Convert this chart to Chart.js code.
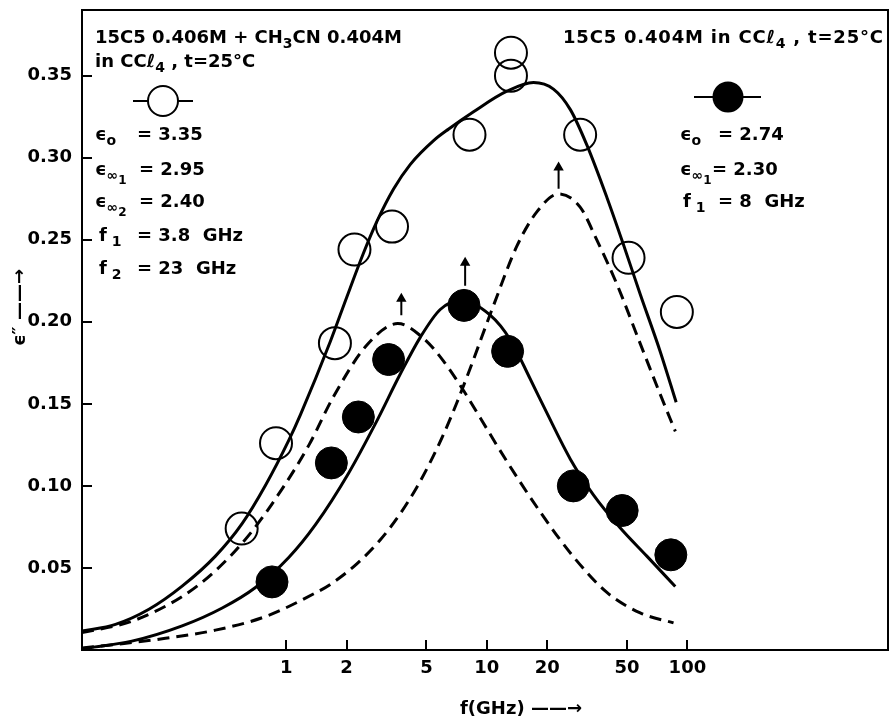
<!DOCTYPE html>
<html>
<head>
<meta charset="utf-8">
<script src="https://cdn.jsdelivr.net/npm/chart.js@4.4.0/dist/chart.umd.min.js"></script>
<style>
  html, body { margin: 0; padding: 0; background: #fff; }
</style>
</head>
<body>
<canvas id="myChart" width="890" height="721"></canvas>
<script>
'use strict';

// open circles: 15C5 0.406M + CH3CN 0.404M in CCl4
let openFreq = [0.60, 0.89, 1.75, 2.19, 3.37, 8.2, 13.2, 13.2, 29.2, 50.9, 88.6];
let openEps = [0.074, 0.126, 0.187, 0.244, 0.258, 0.314, 0.364, 0.350, 0.314, 0.239, 0.206];

// filled circles: 15C5 0.404M in CCl4
let fillFreq = [0.85, 1.68, 2.29, 3.24, 7.7, 12.7, 27.0, 47.3, 82.7];
let fillEps = [0.0415, 0.114, 0.142, 0.177, 0.210, 0.182, 0.100, 0.085, 0.058];

// solid curve through the open circles
let fitOpenFreq = [0.096, 0.141, 0.207, 0.303, 0.444, 0.603, 0.789, 1.03, 1.18, 1.66, 2.0, 2.43, 2.83, 3.43, 4.15, 5.43, 6.46, 8.59, 12.6, 17.1, 21.5, 26.1, 31.6, 39.7, 47.9, 58.2, 73.1, 87.9];
let fitOpenEps = [0.0115, 0.0156, 0.0248, 0.0389, 0.0572, 0.077, 0.1004, 0.1277, 0.1436, 0.188, 0.2147, 0.2419, 0.261, 0.2809, 0.2958, 0.3104, 0.3175, 0.328, 0.3405, 0.3458, 0.3418, 0.3293, 0.3075, 0.2758, 0.2474, 0.2168, 0.1821, 0.151];

// solid curve through the filled circles
let fitFillFreq = [0.096, 0.17, 0.303, 0.48, 0.703, 1.03, 1.40, 2.05, 2.79, 3.70, 4.66, 5.86, 7.4, 10.4, 13.1, 16.4, 19.9, 26.1, 34.0, 46.2, 62.8, 87];
let fitFillEps = [0.0008, 0.0054, 0.0147, 0.0256, 0.0381, 0.0564, 0.0764, 0.1079, 0.1381, 0.168, 0.1905, 0.2075, 0.213, 0.2041, 0.1891, 0.1656, 0.1446, 0.1163, 0.0946, 0.0745, 0.0572, 0.0387];

// dashed component, f1 = 3.8 GHz
let partOneFreq = [0.096, 0.17, 0.303, 0.444, 0.652, 0.955, 1.30, 1.72, 2.52, 3.6, 4.83, 6.1, 7.66, 9.27, 12.6, 18.5, 27.0, 39.7, 58.2, 85.3];
let partOneEps = [0.0106, 0.0175, 0.0326, 0.0483, 0.07, 0.0982, 0.125, 0.1543, 0.1857, 0.1989, 0.19, 0.1759, 0.1581, 0.1415, 0.1149, 0.084, 0.0569, 0.0351, 0.0226, 0.0165];

// dashed component, f2 = 23 GHz
let partTwoFreq = [0.096, 0.141, 0.25, 0.444, 0.789, 1.40, 1.66, 2.25, 2.94, 3.70, 4.49, 5.22, 6.10, 7.10, 8.28, 10.8, 14.1, 17.8, 22.8, 29.2, 35.4, 44.5, 58.2, 73.1, 87.1];
let partTwoEps = [0.0012, 0.0034, 0.0071, 0.0121, 0.0204, 0.0348, 0.04, 0.0525, 0.067, 0.083, 0.0994, 0.1143, 0.1317, 0.1508, 0.1719, 0.2099, 0.2459, 0.2671, 0.2779, 0.2699, 0.2497, 0.223, 0.1867, 0.156, 0.1332];

// little arrows over the peaks
let arrowFreq = [3.75, 7.8, 22.8];
let arrowFoot = [0.204, 0.222, 0.281];
let arrowHead = [0.214, 0.236, 0.294];

let xTicks = [1, 2, 5, 10, 20, 50, 100];
let yTicks = [0.05, 0.10, 0.15, 0.20, 0.25, 0.30, 0.35];

let FONT = 'DejaVu Sans';

function pairs(xs, ys) {
    return xs.map((x, i) => ({ x: x, y: ys[i] }));
}

function arrowPoints() {
    let pts = [];
    for (let i = 0; i < arrowFreq.length; i++) {
        pts.push({ x: arrowFreq[i], y: arrowFoot[i] });
        pts.push({ x: arrowFreq[i], y: arrowHead[i] });
        pts.push({ x: arrowFreq[i], y: null });
    }
    return pts;
}

function curve(xs, ys, dash) {
    return {
        data: pairs(xs, ys),
        showLine: true,
        pointRadius: 0,
        borderColor: '#000',
        borderWidth: 3,
        borderDash: dash,
        cubicInterpolationMode: 'monotone',
        fill: false
    };
}

function noPadding(scale) {
    scale.paddingTop = 0;
    scale.paddingBottom = 0;
    scale.paddingLeft = 0;
    scale.paddingRight = 0;
}

// draws text with subscripts, runs = [[text, level], ...]
function drawRuns(ctx, x, y, runs) {
    for (let r of runs) {
        let size = r[1] === 0 ? 18 : (r[1] === 1 ? 14 : 12);
        let dy = r[1] === 0 ? 0 : (r[1] === 1 ? 5 : 9);
        ctx.font = 'bold ' + size + 'px "' + FONT + '"';
        ctx.fillText(r[0], x, y + dy);
        x += ctx.measureText(r[0]).width;
    }
    return x;
}

let notes = {
    id: 'notes',
    afterDraw(chart) {
        let ctx = chart.ctx;
        let a = chart.chartArea;
        ctx.save();
        ctx.strokeStyle = '#000';
        ctx.fillStyle = '#000';
        ctx.lineWidth = 2;
        ctx.strokeRect(a.left, a.top, a.right - a.left, a.bottom - a.top);

        ctx.textBaseline = 'alphabetic';
        ctx.textAlign = 'left';

        // left block
        drawRuns(ctx, 95, 43, [['15C5 0.406M + CH', 0], ['3', 1], ['CN 0.404M', 0]]);
        drawRuns(ctx, 95, 67, [['in CCℓ', 0], ['4', 1], [' , t=25°C', 0]]);

        ctx.beginPath();
        ctx.moveTo(133, 101);
        ctx.lineTo(193, 101);
        ctx.stroke();
        ctx.beginPath();
        ctx.arc(163, 101, 15, 0, Math.PI * 2);
        ctx.fillStyle = '#fff';
        ctx.fill();
        ctx.stroke();
        ctx.fillStyle = '#000';

        drawRuns(ctx, 95, 140, [['ϵ', 0], ['o', 1]]);
        drawRuns(ctx, 137, 140, [['= 3.35', 0]]);
        drawRuns(ctx, 95, 175, [['ϵ', 0], ['∞', 1], ['1', 2]]);
        drawRuns(ctx, 139, 175, [['= 2.95', 0]]);
        drawRuns(ctx, 95, 207, [['ϵ', 0], ['∞', 1], ['2', 2]]);
        drawRuns(ctx, 139, 207, [['= 2.40', 0]]);
        drawRuns(ctx, 99, 241, [['f', 0], [' 1', 1]]);
        drawRuns(ctx, 137, 241, [['= 3.8  GHz', 0]]);
        drawRuns(ctx, 99, 274, [['f', 0], [' 2', 1]]);
        drawRuns(ctx, 137, 274, [['= 23  GHz', 0]]);

        // right block
        ctx.letterSpacing = '0.8px';
        drawRuns(ctx, 563, 43, [['15C5 0.404M in CCℓ', 0], ['4', 1], [' , t=25°C', 0]]);
        ctx.letterSpacing = '0px';

        ctx.beginPath();
        ctx.moveTo(694, 97);
        ctx.lineTo(761, 97);
        ctx.stroke();
        ctx.beginPath();
        ctx.arc(728, 97, 15.5, 0, Math.PI * 2);
        ctx.fill();

        drawRuns(ctx, 680, 140, [['ϵ', 0], ['o', 1]]);
        drawRuns(ctx, 718, 140, [['= 2.74', 0]]);
        drawRuns(ctx, 680, 175, [['ϵ', 0], ['∞', 1], ['1', 2]]);
        drawRuns(ctx, 712, 175, [['= 2.30', 0]]);
        drawRuns(ctx, 683, 207, [['f', 0], [' 1', 1]]);
        drawRuns(ctx, 718, 207, [['= 8  GHz', 0]]);
        ctx.restore();
    }
};

let tickFont = { family: FONT, size: 18, weight: 'bold' };

let ctx = document.getElementById('myChart').getContext('2d');

let myChart = new Chart(ctx, {
    type: 'scatter',
    data: {
        datasets: [{
            data: pairs(fillFreq, fillEps),
            pointRadius: 16,
            pointBackgroundColor: '#000',
            pointBorderColor: '#000',
            pointBorderWidth: 1
        }, {
            data: pairs(openFreq, openEps),
            pointRadius: 16,
            pointBackgroundColor: 'rgba(0,0,0,0)',
            pointBorderColor: '#000',
            pointBorderWidth: 2
        },
        curve(fitOpenFreq, fitOpenEps, []),
        curve(fitFillFreq, fitFillEps, []),
        curve(partOneFreq, partOneEps, [12, 7]),
        curve(partTwoFreq, partTwoEps, [12, 7]),
        {
            data: arrowPoints(),
            showLine: true,
            spanGaps: false,
            borderColor: '#000',
            borderWidth: 2,
            pointStyle: 'triangle',
            pointRadius: (c) => (c.dataIndex % 3 === 1 ? 4 : 0),
            pointBackgroundColor: '#000',
            pointBorderColor: '#000'
        }]
    },
    options: {
        responsive: false,
        animation: false,
        layout: { autoPadding: false, padding: { left: 0, right: 2, top: 10, bottom: 0 } },
        plugins: {
            legend: { display: false },
            tooltip: { enabled: false }
        },
        scales: {
            x: {
                type: 'logarithmic',
                min: 0.096,
                max: 1000,
                afterBuildTicks: (axis) => { axis.ticks = xTicks.map(v => ({ value: v })); },
                afterFit: (scale) => { scale.height = 71; noPadding(scale); },
                ticks: {
                    callback: (v) => String(v),
                    color: '#000',
                    font: tickFont,
                    padding: 18,
                    autoSkip: false,
                    maxRotation: 0
                },
                grid: { drawOnChartArea: false, tickLength: -10, color: '#000', lineWidth: 2 },
                border: { color: '#000', width: 2 },
                title: {
                    display: true,
                    text: '\u2003\u2003\u2003\u2003f(GHz) ——→',
                    color: '#000',
                    font: tickFont,
                    padding: { top: 0, bottom: 1 }
                }
            },
            y: {
                type: 'linear',
                min: 0,
                max: 0.39,
                afterBuildTicks: (axis) => { axis.ticks = yTicks.map(v => ({ value: v })); },
                afterFit: (scale) => { scale.width = 82; noPadding(scale); },
                ticks: {
                    callback: (v) => v.toFixed(2),
                    color: '#000',
                    font: tickFont,
                    padding: 20
                },
                grid: { drawOnChartArea: false, tickLength: -10, color: '#000', lineWidth: 2 },
                border: { color: '#000', width: 2 },
                title: {
                    display: true,
                    text: '\u2003\u2003\u2002ϵ″ ——→',
                    color: '#000',
                    font: tickFont,
                    padding: { top: 10, bottom: 0 }
                }
            }
        }
    },
    plugins: [notes]
});
</script>
</body>
</html>
